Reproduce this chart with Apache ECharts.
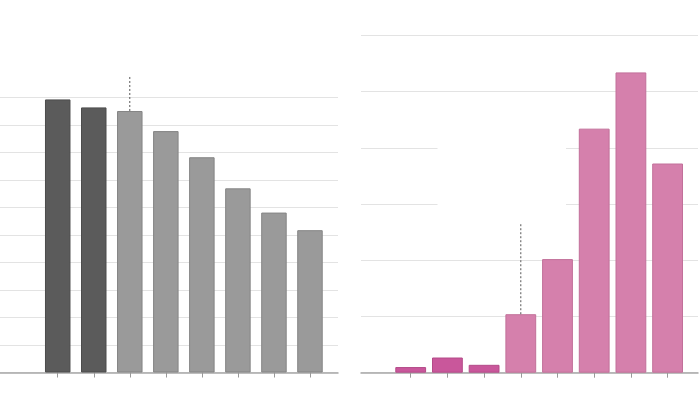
<!DOCTYPE html>
<html>
<head>
<meta charset="utf-8">
<script src="https://cdn.jsdelivr.net/npm/echarts@6/dist/echarts.min.js"></script>
<style>html,body{margin:0;padding:0;background:#fff}#c{width:700px;height:404px}</style>
</head>
<body>
<div id="c"></div>
<script>
// Left panel data
var leftCategories = ['1','2','3','4','5','6','7','8'];
var leftValues = [99.2, 96.3, 95.0, 87.7, 78.2, 66.9, 58.1, 51.7];
var leftDark = [true, true, false, false, false, false, false, false];
var leftMarker = {index: 2, from: 95.0, to: 108};
// Right panel data
var rightCategories = ['1','2','3','4','5','6','7','8'];
var rightValues = [1.0, 2.7, 1.4, 10.4, 20.2, 43.4, 53.4, 37.2];
var rightDark = [true, true, true, false, false, false, false, false];
var rightMarker = {index: 3, from: 10.4, to: 26.4};

var chart = echarts.init(document.getElementById('c'), null, {renderer: 'canvas'});

var gridColor = '#e3e3e3';
var axisColor = '#a8a8a8';

function barData(vals, dark, darkC, lightC, darkB, lightB) {
  return vals.map(function (v, i) {
    return {value: v, itemStyle: {color: dark[i] ? darkC : lightC, borderColor: dark[i] ? darkB : lightB, borderWidth: 1}};
  });
}

var option = {
  animation: false,
  grid: [
    {left: 0, top: 97.3, width: 338, height: 275.2},
    {left: 39.7, top: 69.7, width: 288.3, height: 302.8},
    {left: 361, top: 35.3, width: 337, height: 337.4},
    {left: 392.35, top: 35.3, width: 293.6, height: 337.4}
  ],
  xAxis: [
    {type: 'value', gridIndex: 0, min: 0, max: 1, axisLine: {show: true, onZero: false, lineStyle: {color: axisColor, width: 1.5}}, axisTick: {show: false}, axisLabel: {show: false}, splitLine: {show: false}},
    {type: 'category', gridIndex: 1, data: leftCategories, axisLine: {show: false}, axisTick: {show: true, alignWithLabel: true, length: 5, lineStyle: {color: '#999'}}, axisLabel: {show: false}, splitLine: {show: false}},
    {type: 'value', gridIndex: 2, min: 0, max: 1, axisLine: {show: true, onZero: false, lineStyle: {color: axisColor, width: 1.5}}, axisTick: {show: false}, axisLabel: {show: false}, splitLine: {show: false}},
    {type: 'category', gridIndex: 3, data: rightCategories, axisLine: {show: false}, axisTick: {show: true, alignWithLabel: true, length: 5, lineStyle: {color: '#999'}}, axisLabel: {show: false}, splitLine: {show: false}}
  ],
  yAxis: [
    {type: 'value', gridIndex: 0, min: 0, max: 100, interval: 10, axisLine: {show: false}, axisTick: {show: false}, axisLabel: {show: false}, splitLine: {show: true, lineStyle: {color: gridColor, width: 1}}},
    {type: 'value', gridIndex: 1, min: 0, max: 110, show: false, splitLine: {show: false}},
    {type: 'value', gridIndex: 2, min: 0, max: 60, interval: 10, axisLine: {show: false}, axisTick: {show: false}, axisLabel: {show: false}, splitLine: {show: true, lineStyle: {color: gridColor, width: 1}}},
    {type: 'value', gridIndex: 3, min: 0, max: 60, show: false, splitLine: {show: false}}
  ],
  graphic: [
    {type: 'rect', z: 1, shape: {x: 437.5, y: 140, width: 128.5, height: 72}, style: {fill: '#ffffff'}}
  ],
  series: [
    {type: 'bar', xAxisIndex: 1, yAxisIndex: 1, barWidth: 25.5, data: barData(leftValues, leftDark, '#5b5b5b', '#9a9a9a', '#4c4c4c', '#858585')},
    {type: 'line', xAxisIndex: 1, yAxisIndex: 1, symbol: 'none', z: 3, lineStyle: {color: '#555', width: 1, type: [2, 2]},
      data: [[leftMarker.index, leftMarker.from], [leftMarker.index, leftMarker.to]]},
    {type: 'bar', xAxisIndex: 3, yAxisIndex: 3, barWidth: 30.8, data: barData(rightValues, rightDark, '#c9579b', '#d580ac', '#b44a88', '#c2709a')},
    {type: 'line', xAxisIndex: 3, yAxisIndex: 3, symbol: 'none', z: 3, lineStyle: {color: '#555', width: 1, type: [2, 2]},
      data: [[rightMarker.index, rightMarker.from], [rightMarker.index, rightMarker.to]]}
  ]
};
chart.setOption(option);
</script>
</body>
</html>
